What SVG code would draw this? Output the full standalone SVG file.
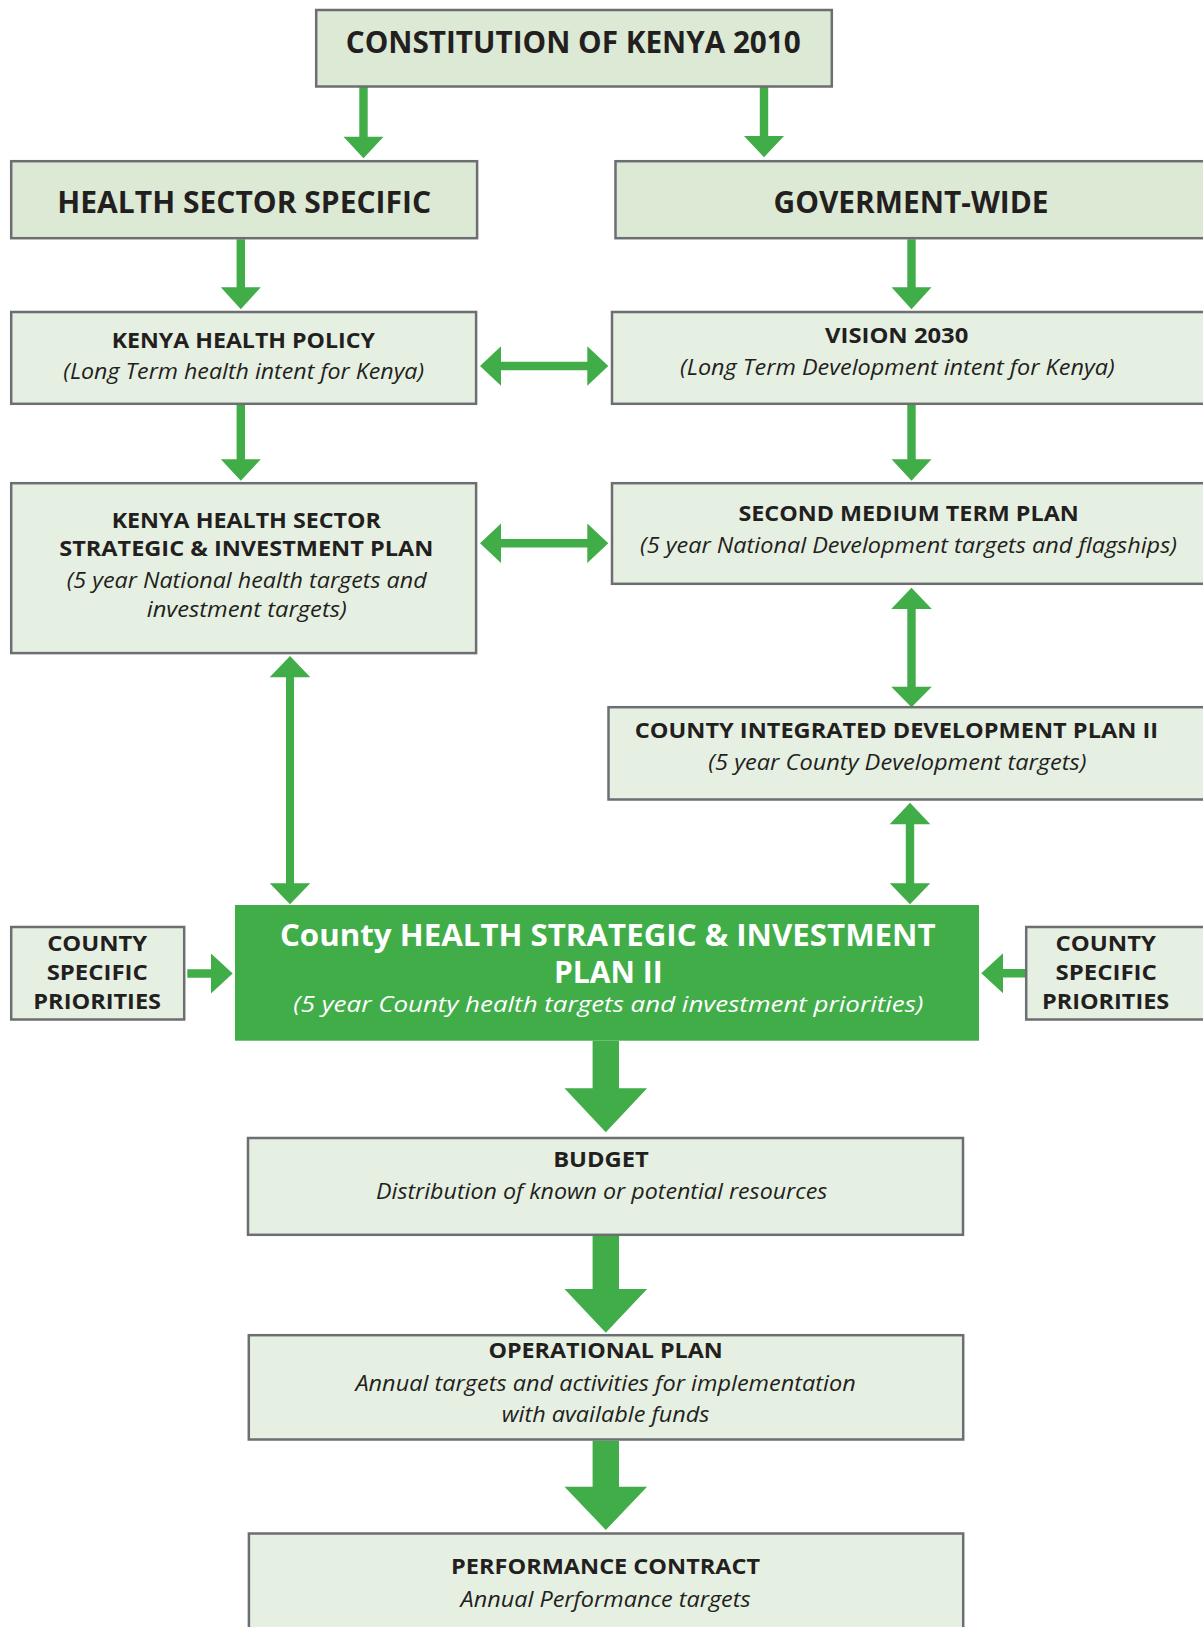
<svg xmlns="http://www.w3.org/2000/svg" width="1203" height="1627" viewBox="0 0 1203 1627">
<style>
.bx{fill:#e6f0e2;stroke:#6d6e71;stroke-width:2.5}
.bx2{fill:#dce9d4;stroke:#6d6e71;stroke-width:2.5}
.main{fill:#41ad49}
.ar{fill:#41ad49}
text{font-family:"Open Sans","Liberation Sans",sans-serif;fill:#231f20;text-anchor:middle}
.b30{font-weight:700;font-size:30px}
.b22{font-weight:700;font-size:22px}
.i22{font-style:italic;font-size:22px}
.w{fill:#ffffff}
</style>
<rect width="1203" height="1627" fill="#ffffff"/>
<g id="connectors">
<polygon class="ar" points="359.3,87 367.7,87 367.7,136.7 383.5,136.7 363.5,158.3 343.5,136.7 359.3,136.7"/>
<polygon class="ar" points="759.8,87 768.2,87 768.2,136 784,136 764,157.3 744,136 759.8,136"/>
<polygon class="ar" points="236.6,239.3 245,239.3 245,287.3 260.8,287.3 240.8,309.3 220.8,287.3 236.6,287.3"/>
<polygon class="ar" points="907.3,239.3 915.7,239.3 915.7,287.3 931.5,287.3 911.5,309.3 891.5,287.3 907.3,287.3"/>
<polygon class="ar" points="236.6,405 245,405 245,459.3 260.8,459.3 240.8,480.7 220.8,459.3 236.6,459.3"/>
<polygon class="ar" points="907.3,405 915.7,405 915.7,459.3 931.5,459.3 911.5,480.7 891.5,459.3 907.3,459.3"/>
<polygon class="ar" points="480,366 501,346.3 501,361.8 587.3,361.8 587.3,346.3 608.3,366 587.3,385.7 587.3,370.2 501,370.2 501,385.7"/>
<polygon class="ar" points="480,543.3 501,523.6 501,539.1 587.3,539.1 587.3,523.6 608.3,543.3 587.3,563 587.3,547.5 501,547.5 501,563"/>
<polygon class="ar" points="290,656 310.3,677.3 294,677.3 294,883.3 310.3,883.3 290,904.3 269.7,883.3 286,883.3 286,677.3 269.7,677.3"/>
<polygon class="ar" points="911.5,587.7 931.8,609 915.7,609 915.7,686.7 931.8,686.7 911.5,707.3 891.2,686.7 907.3,686.7 907.3,609 891.2,609"/>
<polygon class="ar" points="910,802.7 930.3,824.3 914.2,824.3 914.2,883.3 930.3,883.3 910,904.3 889.7,883.3 905.8,883.3 905.8,824.3 889.7,824.3"/>
<polygon class="ar" points="187.3,969.3 211,969.3 211,953.5 232.7,973.5 211,993.5 211,977.7 187.3,977.7"/>
<polygon class="ar" points="1025,969 1003,969 1003,953.2 981.3,973.2 1003,993.2 1003,977.4 1025,977.4"/>
<polygon class="ar" points="592.6,1040.7 619,1040.7 619,1088.3 647.1,1088.3 605.8,1132.3 564.5,1088.3 592.6,1088.3"/>
<polygon class="ar" points="592.6,1236 619,1236 619,1289 647.1,1289 605.8,1332.7 564.5,1289 592.6,1289"/>
<polygon class="ar" points="592.6,1440.7 619,1440.7 619,1486.7 647.1,1486.7 605.8,1530 564.5,1486.7 592.6,1486.7"/>
</g>
<g id="constitution">
<rect class="bx2" x="316.2" y="10" width="515.6" height="76.5"/>
<text class="b30" x="573.3" y="53.3" textLength="455" lengthAdjust="spacingAndGlyphs">CONSTITUTION OF KENYA 2010</text>
</g>
<g id="health-sector-specific">
<rect class="bx2" x="11.2" y="161.2" width="465.9" height="77"/>
<text class="b30" x="244.2" y="212.7" textLength="373.7" lengthAdjust="spacingAndGlyphs">HEALTH SECTOR SPECIFIC</text>
</g>
<g id="government-wide">
<rect class="bx2" x="615.5" y="161.2" width="600" height="77"/>
<text class="b30" x="911" y="212.7" textLength="275" lengthAdjust="spacingAndGlyphs">GOVERMENT-WIDE</text>
</g>
<g id="kenya-health-policy">
<rect class="bx" x="11.2" y="312" width="464.9" height="91.8"/>
<text class="b22" x="243.3" y="347.7" textLength="263.3" lengthAdjust="spacingAndGlyphs">KENYA HEALTH POLICY</text>
<text class="i22" x="243.7" y="379" textLength="360.7" lengthAdjust="spacingAndGlyphs">(Long Term health intent for Kenya)</text>
</g>
<g id="vision-2030">
<rect class="bx" x="612" y="312" width="600" height="91.8"/>
<text class="b22" x="896.7" y="342.7" textLength="143.3" lengthAdjust="spacingAndGlyphs">VISION 2030</text>
<text class="i22" x="897.3" y="375" textLength="434.6" lengthAdjust="spacingAndGlyphs">(Long Term Development intent for Kenya)</text>
</g>
<g id="khssip">
<rect class="bx" x="11.2" y="483.2" width="464.9" height="169.9"/>
<text class="b22" x="246.3" y="527.7" textLength="269.3" lengthAdjust="spacingAndGlyphs">KENYA HEALTH SECTOR</text>
<text class="b22" x="246.3" y="555.7" textLength="374" lengthAdjust="spacingAndGlyphs">STRATEGIC &amp; INVESTMENT PLAN</text>
<text class="i22" x="246.7" y="588.3" textLength="360" lengthAdjust="spacingAndGlyphs">(5 year National health targets and</text>
<text class="i22" x="246.7" y="616.7" textLength="200" lengthAdjust="spacingAndGlyphs">investment targets)</text>
</g>
<g id="second-medium-term-plan">
<rect class="bx" x="612" y="483.2" width="600" height="100.6"/>
<text class="b22" x="908.6" y="520.7" textLength="340.4" lengthAdjust="spacingAndGlyphs">SECOND MEDIUM TERM PLAN</text>
<text class="i22" x="908.5" y="553.3" textLength="536.9" lengthAdjust="spacingAndGlyphs">(5 year National Development targets and flagships)</text>
</g>
<g id="cidp">
<rect class="bx" x="608.5" y="707.2" width="600" height="92.3"/>
<text class="b22" x="896.4" y="738.3" textLength="523.2" lengthAdjust="spacingAndGlyphs">COUNTY INTEGRATED DEVELOPMENT PLAN II</text>
<text class="i22" x="897.4" y="770" textLength="378.2" lengthAdjust="spacingAndGlyphs">(5 year County Development targets)</text>
</g>
<g id="county-priorities-left">
<rect class="bx" x="11.2" y="927" width="173" height="92.5"/>
<text class="b22" x="97.2" y="951" textLength="100" lengthAdjust="spacingAndGlyphs">COUNTY</text>
<text class="b22" x="97.2" y="980" textLength="101" lengthAdjust="spacingAndGlyphs">SPECIFIC</text>
<text class="b22" x="97.2" y="1009" textLength="127.7" lengthAdjust="spacingAndGlyphs">PRIORITIES</text>
</g>
<g id="county-priorities-right">
<rect class="bx" x="1026.2" y="927" width="190" height="92.5"/>
<text class="b22" x="1105.8" y="950.7" textLength="100.4" lengthAdjust="spacingAndGlyphs">COUNTY</text>
<text class="b22" x="1106.2" y="980" textLength="101.3" lengthAdjust="spacingAndGlyphs">SPECIFIC</text>
<text class="b22" x="1105.6" y="1009" textLength="127.2" lengthAdjust="spacingAndGlyphs">PRIORITIES</text>
</g>
<g id="county-hsip">
<rect class="main" x="235" y="905" width="744" height="135.7"/>
<text class="b30 w" x="607.8" y="945.7" textLength="655.7" lengthAdjust="spacingAndGlyphs">County HEALTH STRATEGIC &amp; INVESTMENT</text>
<text class="b30 w" x="608.3" y="983.3" textLength="108.7" lengthAdjust="spacingAndGlyphs">PLAN II</text>
<text class="i22 w" x="608.3" y="1011.7" font-size="23" textLength="630" lengthAdjust="spacingAndGlyphs">(5 year County health targets and investment priorities)</text>
</g>
<g id="budget">
<rect class="bx" x="248" y="1138" width="715" height="96.8"/>
<text class="b22" x="601" y="1166.7" textLength="95.7" lengthAdjust="spacingAndGlyphs">BUDGET</text>
<text class="i22" x="601.7" y="1199.3" textLength="451.3" lengthAdjust="spacingAndGlyphs">Distribution of known or potential resources</text>
</g>
<g id="operational-plan">
<rect class="bx" x="248.8" y="1335.2" width="714.4" height="104.3"/>
<text class="b22" x="605.6" y="1357.7" textLength="234.4" lengthAdjust="spacingAndGlyphs">OPERATIONAL PLAN</text>
<text class="i22" x="605.6" y="1391" textLength="500.4" lengthAdjust="spacingAndGlyphs">Annual targets and activities for implementation</text>
<text class="i22" x="605.6" y="1422.3" textLength="207.6" lengthAdjust="spacingAndGlyphs">with available funds</text>
</g>
<g id="performance-contract">
<rect class="bx" x="248.9" y="1533.5" width="714.3" height="110"/>
<text class="b22" x="605.6" y="1574.3" textLength="309" lengthAdjust="spacingAndGlyphs">PERFORMANCE CONTRACT</text>
<text class="i22" x="605.6" y="1606.7" textLength="290" lengthAdjust="spacingAndGlyphs">Annual Performance targets</text>
</g>
</svg>
